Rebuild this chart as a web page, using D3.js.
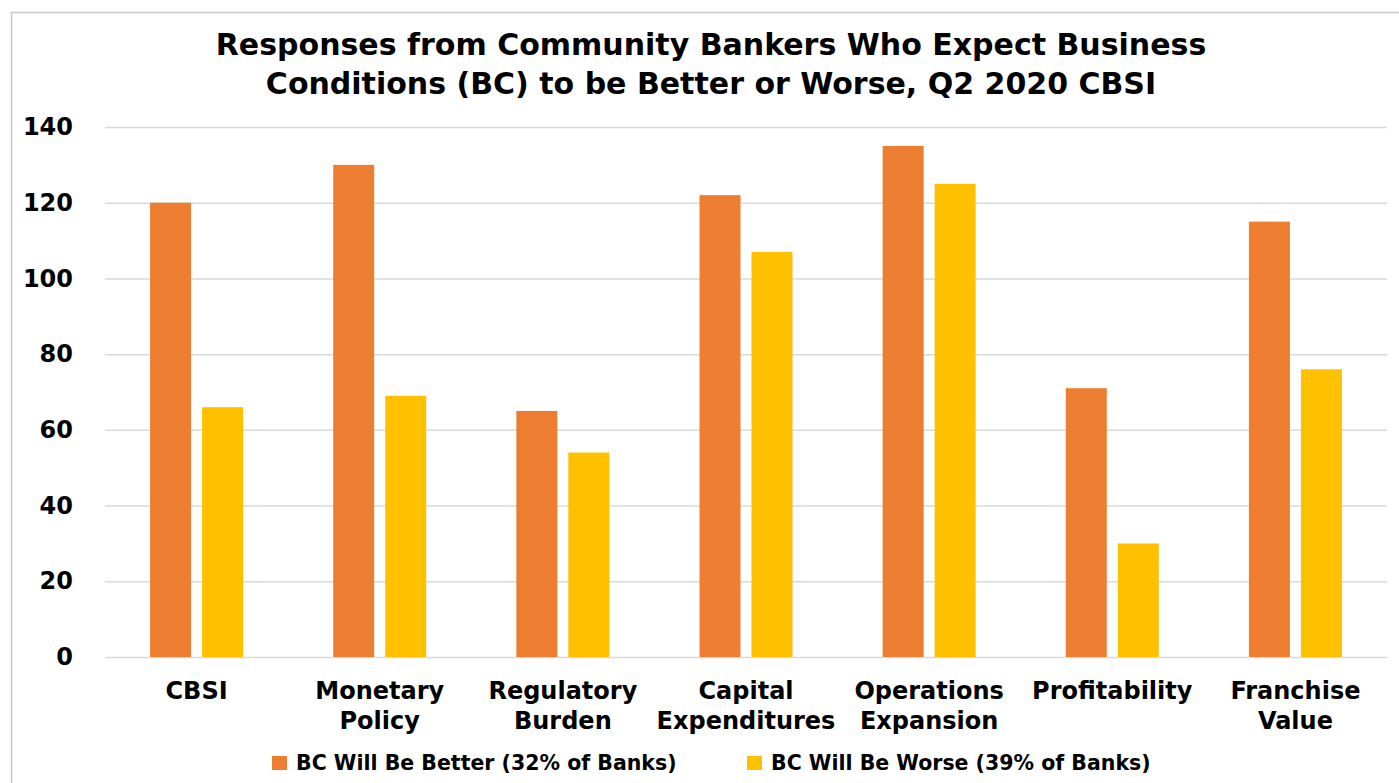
<!DOCTYPE html>
<html>
<head>
<meta charset="utf-8">
<script src="https://cdn.jsdelivr.net/npm/d3@7"></script>
<style>
  body { margin: 0; background: #fff; }
  svg { display: block; font-family: "DejaVu Sans", Verdana, sans-serif; font-weight: bold; }
</style>
</head>
<body>
<svg width="1399" height="783"></svg>
<script>
// data
const categories = [
  ['CBSI'],
  ['Monetary', 'Policy'],
  ['Regulatory', 'Burden'],
  ['Capital', 'Expenditures'],
  ['Operations', 'Expansion'],
  ['Profitability'],
  ['Franchise', 'Value']
];
const better = [120, 130, 65, 122, 135, 71, 115];
const worse = [66, 69, 54, 107, 125, 30, 76];
const seriesNames = ['BC Will Be Better (32% of Banks)', 'BC Will Be Worse (39% of Banks)'];
const seriesColors = ['#ED7D31', '#FFC000'];
const yTicks = [0, 20, 40, 60, 80, 100, 120, 140];
const titleLines = [
  'Responses from Community Bankers Who Expect Business',
  'Conditions (BC) to be Better or Worse, Q2 2020 CBSI'
];

const svg = d3.select('svg');
const margin = { left: 105, right: 12, top: 127, bottom: 126 };
const width = 1399 - margin.left - margin.right;
const height = 783 - margin.top - margin.bottom;

// outer chart border
svg.append('rect')
  .attr('x', 11.5).attr('y', 12.5)
  .attr('width', 1420).attr('height', 800)
  .attr('fill', 'none').attr('stroke', '#c8c8c8').attr('stroke-width', 1.5);

// title
svg.append('g')
  .selectAll('text')
  .data(titleLines)
  .join('text')
    .attr('x', 711)
    .attr('y', (d, i) => 55 + i * 39)
    .attr('text-anchor', 'middle')
    .attr('font-size', 30)
    .attr('fill', '#000')
    .text(d => d);

const g = svg.append('g').attr('transform', `translate(${margin.left},${margin.top})`);

const x = d3.scaleBand()
  .domain(d3.range(categories.length))
  .range([0, width]);

const y = d3.scaleLinear().domain([0, 140]).range([height, 0]);

// gridlines
g.append('g')
  .selectAll('line')
  .data(yTicks)
  .join('line')
    .attr('x1', 0).attr('x2', width)
    .attr('y1', d => y(d) + 0.5).attr('y2', d => y(d) + 0.5)
    .attr('stroke', '#d9d9d9').attr('stroke-width', 1.5);

// y axis labels
const yAxis = g.append('g')
  .call(d3.axisLeft(y).tickValues(yTicks).tickSize(0).tickPadding(32));
yAxis.select('.domain').remove();
yAxis.selectAll('text')
  .attr('font-size', 24)
  .attr('font-family', '"DejaVu Sans", Verdana, sans-serif')
  .attr('font-weight', 'bold')
  .attr('fill', '#000');

// bars
const barW = 41, barGap = 11;
const xSub = d3.scaleOrdinal().domain([0, 1])
  .range([-(barGap / 2 + barW), barGap / 2]);

const rows = categories.map((c, i) => [better[i], worse[i]]);
const groups = g.append('g')
  .selectAll('g')
  .data(rows)
  .join('g')
    .attr('transform', (d, i) => `translate(${x(i) + x.bandwidth() / 2},0)`);

groups.selectAll('rect')
  .data(d => d)
  .join('rect')
    .attr('x', (d, j) => xSub(j))
    .attr('y', d => y(d))
    .attr('width', barW)
    .attr('height', d => y(0) - y(d))
    .attr('fill', (d, j) => seriesColors[j]);

// x labels
g.append('g')
  .selectAll('text')
  .data(categories)
  .join('text')
    .attr('x', (d, i) => x(i) + x.bandwidth() / 2)
    .attr('y', height + 42)
    .attr('text-anchor', 'middle')
    .attr('font-size', 24)
    .attr('fill', '#000')
  .selectAll('tspan')
  .data(d => d)
  .join('tspan')
    .attr('x', function () { return this.parentNode.getAttribute('x'); })
    .attr('dy', (d, i) => i === 0 ? 0 : 30)
    .text(d => d);

// legend
const legendX = [272, 747];
const legend = svg.append('g')
  .selectAll('g')
  .data(seriesNames)
  .join('g')
    .attr('transform', (d, i) => `translate(${legendX[i]},756)`);
legend.append('rect')
  .attr('width', 15).attr('height', 14)
  .attr('fill', (d, i) => seriesColors[i]);
legend.append('text')
  .attr('x', 24).attr('y', 14)
  .attr('font-size', 20.5)
  .attr('fill', '#000')
  .text(d => d);
</script>
</body>
</html>
